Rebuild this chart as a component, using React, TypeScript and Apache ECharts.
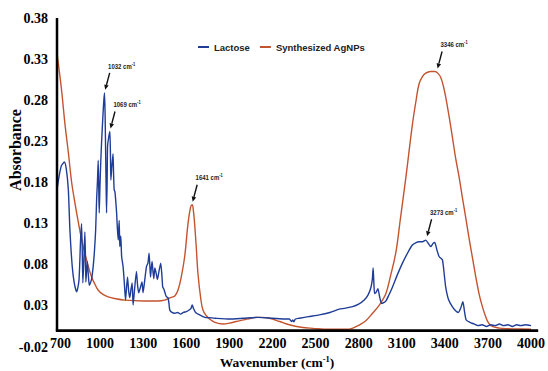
import React, { useEffect, useRef } from 'react';
import * as echarts from 'echarts';

// ---- Data ----
const lactoseWavenumber = [
  700, 715, 730, 751, 765, 779, 790, 806, 820, 837, 853, 864, 871, 876, 880, 887, 894, 898, 901, 906,
  911, 918, 925, 940, 952, 962, 969, 976, 982, 987, 991, 994, 999, 1005, 1012, 1020, 1026, 1031, 1035, 1038,
  1042, 1045, 1049, 1052, 1060, 1068, 1072, 1075, 1082, 1090, 1094, 1098, 1103, 1108, 1115, 1120, 1126, 1133, 1137, 1144,
  1150, 1160, 1168, 1177, 1184, 1191, 1199, 1207, 1215, 1223, 1230, 1240, 1253, 1261, 1269, 1280, 1292, 1299, 1310, 1323,
  1333, 1341, 1346, 1351, 1356, 1362, 1368, 1374, 1381, 1390, 1399, 1410, 1422, 1430, 1436, 1445, 1455, 1462, 1473, 1480,
  1485, 1500, 1520, 1540, 1560, 1580, 1600, 1620, 1633, 1641, 1650, 1665, 1693, 1730, 1762, 1800, 1900, 2000, 2100, 2200,
  2300, 2318, 2333, 2342, 2348, 2360, 2387, 2450, 2526, 2600, 2665, 2700, 2758, 2800, 2839, 2865, 2885, 2895, 2901, 2906,
  2911, 2920, 2934, 2945, 2959, 2975, 2990, 3010, 3036, 3070, 3105, 3140, 3174, 3200, 3221, 3245, 3267, 3285, 3302, 3318,
  3330, 3345, 3360, 3383, 3395, 3406, 3425, 3452, 3475, 3494, 3510, 3526, 3538, 3549, 3575, 3603, 3630, 3660, 3690, 3720,
  3750, 3780, 3810, 3840, 3870, 3900, 3930, 3960, 4000,
];
const lactoseAbsorbance = [
  0.171, 0.188, 0.2, 0.205, 0.196, 0.171, 0.122, 0.078, 0.058, 0.047, 0.061, 0.11, 0.13, 0.095, 0.058, 0.085, 0.12, 0.09, 0.059, 0.072,
  0.084, 0.068, 0.055, 0.062, 0.078, 0.1, 0.122, 0.16, 0.183, 0.207, 0.17, 0.143, 0.175, 0.207, 0.235, 0.262, 0.28, 0.289, 0.262, 0.224,
  0.175, 0.143, 0.18, 0.224, 0.235, 0.242, 0.215, 0.183, 0.2, 0.215, 0.19, 0.171, 0.169, 0.16, 0.143, 0.125, 0.11, 0.134, 0.102, 0.115,
  0.09, 0.078, 0.06, 0.037, 0.052, 0.065, 0.048, 0.04, 0.05, 0.058, 0.031, 0.05, 0.072, 0.055, 0.046, 0.052, 0.059, 0.046, 0.06, 0.078,
  0.082, 0.094, 0.08, 0.065, 0.075, 0.084, 0.072, 0.063, 0.076, 0.07, 0.062, 0.072, 0.082, 0.068, 0.053, 0.05, 0.044, 0.041, 0.04, 0.032,
  0.025, 0.022, 0.021, 0.022, 0.02, 0.022, 0.023, 0.025, 0.027, 0.031, 0.027, 0.022, 0.019, 0.016, 0.0156, 0.015, 0.014, 0.015, 0.016, 0.015,
  0.014, 0.014, 0.011, 0.013, 0.0105, 0.014, 0.015, 0.017, 0.019, 0.022, 0.026, 0.027, 0.029, 0.032, 0.037, 0.043, 0.052, 0.062, 0.076, 0.058,
  0.045, 0.046, 0.051, 0.042, 0.033, 0.034, 0.036, 0.043, 0.053, 0.068, 0.082, 0.094, 0.104, 0.107, 0.108, 0.108, 0.11, 0.106, 0.102, 0.106,
  0.107, 0.098, 0.09, 0.086, 0.07, 0.053, 0.038, 0.029, 0.024, 0.022, 0.027, 0.035, 0.022, 0.0128, 0.01, 0.008, 0.006, 0.007, 0.005, 0.007,
  0.006, 0.008, 0.006, 0.007, 0.005, 0.007, 0.006, 0.007, 0.006,
];

const agnpWavenumber = [
  700, 730, 756, 780, 802, 825, 848, 870, 894, 918, 941, 965, 987, 1020, 1056, 1100, 1172, 1300, 1400, 1450,
  1490, 1520, 1542, 1565, 1589, 1612, 1630, 1641, 1650, 1658, 1670, 1681, 1700, 1716, 1740, 1762, 1800, 1855, 1900, 1948,
  2000, 2050, 2087, 2130, 2179, 2250, 2318, 2400, 2480, 2600, 2712, 2760, 2804, 2850, 2897, 2940, 2966, 2990, 3020, 3059,
  3090, 3128, 3174, 3200, 3221, 3245, 3267, 3300, 3332, 3350, 3371, 3390, 3406, 3430, 3452, 3475, 3499, 3522, 3545, 3568,
  3591, 3615, 3638, 3660, 3684, 3705, 3730, 3780, 3823, 3900, 4000,
];
const agnpAbsorbance = [
  0.337, 0.295, 0.25, 0.215, 0.18, 0.155, 0.132, 0.112, 0.094, 0.078, 0.065, 0.056, 0.049, 0.044, 0.041, 0.039, 0.037, 0.036, 0.036, 0.037,
  0.04, 0.042, 0.049, 0.065, 0.09, 0.13, 0.15, 0.153, 0.145, 0.13, 0.1, 0.07, 0.04, 0.025, 0.018, 0.014, 0.01, 0.008, 0.009, 0.011,
  0.013, 0.015, 0.016, 0.016, 0.015, 0.011, 0.007, 0.004, 0.0027, 0.0015, 0.0015, 0.003, 0.0067, 0.012, 0.021, 0.03, 0.037, 0.045, 0.065, 0.095,
  0.135, 0.185, 0.25, 0.28, 0.3, 0.309, 0.313, 0.315, 0.315, 0.313, 0.308, 0.297, 0.284, 0.26, 0.236, 0.21, 0.187, 0.162, 0.138, 0.113,
  0.09, 0.066, 0.045, 0.03, 0.017, 0.009, 0.005, 0.003, 0.0023, 0.002, 0.0015,
];

const seriesNames = ['Lactose', 'Synthesized AgNPs'];
const peakLabels = ['1032', '1069', '1641', '3346', '3273'];
const peakWavenumber = [1032, 1069, 1641, 3346, 3273];
const peakAbsorbance = [0.289, 0.242, 0.153, 0.315, 0.111];

const SERIF = "'Liberation Serif', 'Times New Roman', serif";
const SANS = "'Liberation Sans', Arial, sans-serif";
const BLUE = '#1F3D98';
const RED = '#C4532F';

export default function App() {
  const ref = useRef<HTMLDivElement>(null);

  useEffect(() => {
    if (!ref.current) return;
    const chart = echarts.init(ref.current, null, { renderer: 'svg' });

    const lactose = lactoseWavenumber.map((w, i) => [w, lactoseAbsorbance[i]]);
    const agnp = agnpWavenumber.map((w, i) => [w, agnpAbsorbance[i]]);

    chart.setOption({
      animation: false,
      backgroundColor: '#fff',
      grid: { left: 57, right: 8, top: 18, bottom: 24, containLabel: false },
      legend: {
        left: 193,
        top: 37,
        icon: 'rect',
        itemWidth: 11,
        itemHeight: 2,
        itemGap: 10,
        data: seriesNames,
        textStyle: { fontFamily: SANS, fontWeight: 'bold', fontSize: 9.5, color: '#222' },
      },
      xAxis: {
        type: 'value',
        min: 700,
        max: 4050,
        interval: 300,
        axisLine: { show: false, onZero: false },
        axisTick: { show: false },
        splitLine: { show: false },
        axisLabel: {
          showMaxLabel: false,
          margin: -11,
          fontFamily: SERIF,
          fontWeight: 'bold',
          fontSize: 14,
          color: '#000',
          formatter: (v: number) => (v === 700 ? '{m|700}' : String(v)),
          rich: {
            m: { fontFamily: SERIF, fontWeight: 'bold', fontSize: 14, color: '#000', padding: [0, 0, 0, 7] },
          },
        },
      },
      yAxis: {
        type: 'value',
        min: -0.02,
        max: 0.38,
        interval: 0.05,
        axisLine: { show: false },
        axisTick: { show: false },
        splitLine: { show: false },
        axisLabel: {
          margin: 9,
          fontFamily: SERIF,
          fontWeight: 'bold',
          fontSize: 14,
          color: '#000',
          formatter: (v: number) => v.toFixed(2),
        },
      },
      series: [
        {
          name: seriesNames[0],
          type: 'line',
          data: lactose,
          showSymbol: false,
          smooth: 0.2,
          color: BLUE,
          lineStyle: { color: BLUE, width: 1.4 },
          z: 3,
        },
        {
          name: seriesNames[1],
          type: 'line',
          data: agnp,
          showSymbol: false,
          smooth: 0.4,
          color: RED,
          lineStyle: { color: RED, width: 1.4 },
          z: 2,
        },
      ],
    });

    // Graphics placed through the axes' own scales
    const graphics: any[] = [];
    const yTop = chart.convertToPixel({ gridIndex: 0 }, [700, 0.38]) as number[];
    const origin = chart.convertToPixel({ gridIndex: 0 }, [700, 0]) as number[];
    const xEnd = chart.convertToPixel({ gridIndex: 0 }, [4050, 0]) as number[];
    graphics.push({
      type: 'line',
      shape: { x1: yTop[0], y1: yTop[1], x2: origin[0], y2: origin[1] },
      style: { stroke: '#000', lineWidth: 2.5 },
      z: 10,
    });
    graphics.push({
      type: 'line',
      shape: { x1: origin[0] - 1.2, y1: origin[1], x2: xEnd[0], y2: xEnd[1] },
      style: { stroke: '#000', lineWidth: 2.8 },
      z: 10,
    });

    peakLabels.forEach((lab, i) => {
      const p = chart.convertToPixel({ gridIndex: 0 }, [peakWavenumber[i], peakAbsorbance[i]]) as number[];
      const sx = p[0] + 5, sy = p[1] - 20;
      const tx = p[0] + 0.5, ty = p[1] - 3;
      const dx = tx - sx, dy = ty - sy;
      const len = Math.sqrt(dx * dx + dy * dy);
      const ux = dx / len, uy = dy / len;
      const bx = tx - ux * 5, by = ty - uy * 5;
      const nx = -uy, ny = ux;
      graphics.push({
        type: 'line',
        shape: { x1: sx, y1: sy, x2: bx, y2: by },
        style: { stroke: '#111', lineWidth: 1.4 },
        z: 10,
      });
      graphics.push({
        type: 'polygon',
        shape: { points: [[tx, ty], [bx + nx * 2.3, by + ny * 2.3], [bx - nx * 2.3, by - ny * 2.3]] },
        style: { fill: '#111' },
        z: 10,
      });
      graphics.push({
        type: 'text',
        x: p[0] + 17,
        y: p[1] - 27,
        scaleX: 0.8,
        z: 10,
        style: {
          text: `{a|${lab} cm}{s|-1}`,
          align: 'center',
          verticalAlign: 'middle',
          rich: {
            a: { fontFamily: SANS, fontWeight: 'bold', fontSize: 7.5, lineHeight: 9, fill: '#222' },
            s: { fontFamily: SANS, fontWeight: 'bold', fontSize: 5, lineHeight: 5, verticalAlign: 'top', fill: '#222' },
          },
        },
      });
    });

    graphics.push({
      type: 'text',
      x: 15,
      y: 150,
      rotation: Math.PI / 2,
      style: {
        text: 'Absorbance',
        fontFamily: SERIF,
        fontWeight: 'bold',
        fontSize: 16,
        fill: '#000',
        align: 'center',
        verticalAlign: 'middle',
      },
    });
    graphics.push({
      type: 'text',
      x: 277,
      y: 362,
      style: {
        text: '{a|Wavenumber (cm}{s|-1}{a|)}',
        align: 'center',
        verticalAlign: 'middle',
        rich: {
          a: { fontFamily: SERIF, fontWeight: 'bold', fontSize: 13.5, lineHeight: 15, fill: '#000' },
          s: { fontFamily: SERIF, fontWeight: 'bold', fontSize: 8.5, lineHeight: 9, verticalAlign: 'top', fill: '#000' },
        },
      },
    });

    chart.setOption({ graphic: graphics });

    return () => chart.dispose();
  }, []);

  return <div ref={ref} style={{ position: 'fixed', left: 0, top: 0, width: 548, height: 371 }} />;
}
